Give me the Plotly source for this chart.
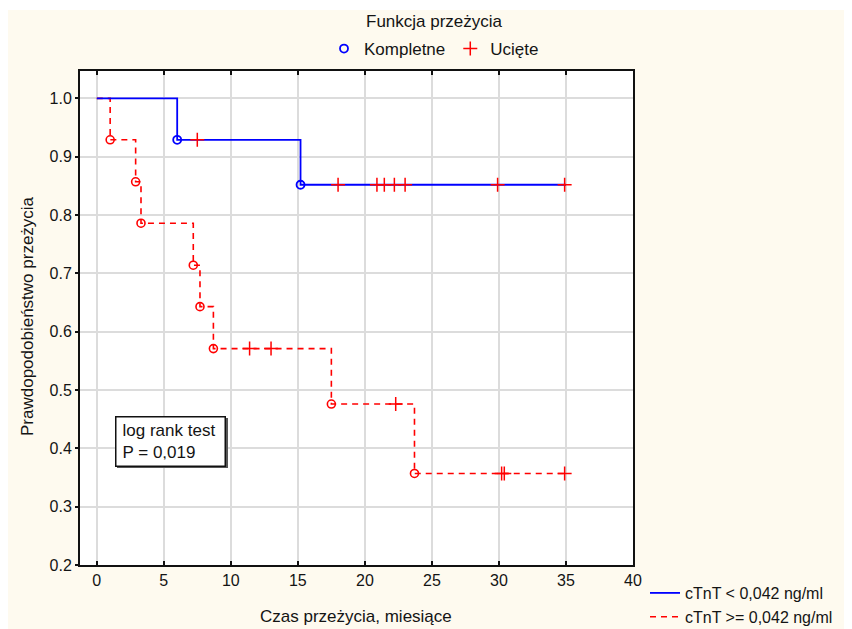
import plotly.graph_objects as go

# ---------------- data ----------------
# Kaplan-Meier step curves (time in months, survival probability)
low_t = [0.0, 6.0, 15.2, 35.0]
low_s = [1.0, 0.929, 0.852, 0.852]
low_event_t = [6.0, 15.2]
low_event_s = [0.929, 0.852]
low_cens_t = [7.5, 18.0, 20.9, 21.45, 22.2, 23.0, 29.9, 34.9]
low_cens_s = [0.929, 0.852, 0.852, 0.852, 0.852, 0.852, 0.852, 0.852]

high_t = [0.0, 1.0, 2.9, 3.3, 7.2, 7.7, 8.7, 17.5, 23.7, 35.0]
high_s = [1.0, 0.929, 0.857, 0.786, 0.714, 0.643, 0.571, 0.476, 0.357, 0.357]
high_event_t = [1.0, 2.9, 3.3, 7.2, 7.7, 8.7, 17.5, 23.7]
high_event_s = [0.929, 0.857, 0.786, 0.714, 0.643, 0.571, 0.476, 0.357]
high_cens_t = [11.4, 13.0, 22.3, 30.2, 30.4, 34.9]
high_cens_s = [0.571, 0.571, 0.476, 0.357, 0.357, 0.357]

x_ticks = [0, 5, 10, 15, 20, 25, 30, 35, 40]
y_ticks = [0.2, 0.3, 0.4, 0.5, 0.6, 0.7, 0.8, 0.9, 1.0]

series_names = ["cTnT < 0,042 ng/ml", "cTnT >= 0,042 ng/ml"]
marker_names = ["Kompletne", "Ucięte"]

BLUE = "#0000FF"
RED = "#FF0000"
CREAM = "#FEFAEF"
FONT = "Arial, Liberation Sans, sans-serif"
TXT = "#141414"

# page has an 8px body margin; figure is placed at (8, 8)
OFF = 8
W, H = 852 - OFF, 629 - OFF
# plot area in page pixels
L, R, T, B = 80, 633, 71, 565
def px(x):
    return (x - L) / (R - L)
def py(y):
    return (B - y) / (B - T)

fig = go.Figure()

# red dashed curve
fig.add_trace(go.Scatter(x=high_t, y=high_s, mode="lines", line_shape="hv",
                         line=dict(color=RED, width=1.6, dash="6px,5px"),
                         name=series_names[1], legend="legend2"))
# blue solid curve
fig.add_trace(go.Scatter(x=low_t, y=low_s, mode="lines", line_shape="hv",
                         line=dict(color=BLUE, width=1.8),
                         name=series_names[0], legend="legend2"))

# complete (event) markers
fig.add_trace(go.Scatter(x=high_event_t, y=high_event_s, mode="markers",
                         marker=dict(symbol="circle-open", size=8, color=RED,
                                     line=dict(width=1.6, color=RED)),
                         showlegend=False))
fig.add_trace(go.Scatter(x=low_event_t, y=low_event_s, mode="markers",
                         marker=dict(symbol="circle-open", size=8, color=BLUE,
                                     line=dict(width=1.8, color=BLUE)),
                         name=marker_names[0], legend="legend"))
# censored markers
fig.add_trace(go.Scatter(x=low_cens_t + high_cens_t, y=low_cens_s + high_cens_s,
                         mode="markers",
                         marker=dict(symbol="cross-thin", size=10, color=RED,
                                     line=dict(width=1.5, color=RED)),
                         name=marker_names[1], legend="legend"))

# thin white strip at the top edge of the image
fig.add_shape(type="rect", xref="paper", yref="paper", x0=px(0), x1=px(860),
              y0=py(10), y1=py(-2), fillcolor="white", line_width=0, layer="below")

# log-rank box shadow + box
fig.add_shape(type="rect", xref="paper", yref="paper",
              x0=px(117), x1=px(228), y0=py(468), y1=py(418),
              fillcolor="#555555", line_width=0, layer="above")
fig.add_annotation(xref="paper", yref="paper", x=px(115), y=py(415.5),
                   xanchor="left", yanchor="top", align="left",
                   text="log rank test<br>P = 0,019", showarrow=False,
                   font=dict(family=FONT, size=17, color=TXT),
                   bgcolor="white", bordercolor="#111111", borderwidth=1.5,
                   borderpad=6, width=96, height=36)

# titles
fig.add_annotation(xref="paper", yref="paper", x=px(434), y=py(21),
                   xanchor="center", yanchor="middle",
                   text="Funkcja przeżycia", showarrow=False,
                   font=dict(family=FONT, size=17, color=TXT))
fig.add_annotation(xref="paper", yref="paper", x=px(356), y=py(616),
                   xanchor="center", yanchor="middle",
                   text="Czas przeżycia, miesiące", showarrow=False,
                   font=dict(family=FONT, size=17, color=TXT))
fig.add_annotation(xref="paper", yref="paper", x=px(27), y=py(316),
                   xanchor="center", yanchor="middle",
                   text="Prawdopodobieństwo przeżycia", showarrow=False,
                   textangle=-90, font=dict(family=FONT, size=17, color=TXT))

fig.update_layout(
    width=W, height=H,
    margin=dict(l=L - OFF, r=852 - R, t=T - OFF, b=629 - B, pad=0,
                autoexpand=False),
    paper_bgcolor=CREAM, plot_bgcolor="white",
    font=dict(family=FONT, size=16, color=TXT),
    legend=dict(orientation="h", x=px(434), xanchor="center",
                y=py(49), yanchor="middle", bgcolor="rgba(0,0,0,0)",
                font=dict(size=17), itemwidth=30, tracegroupgap=0),
    legend2=dict(orientation="v", x=px(645), xanchor="left",
                 y=py(576), yanchor="top", bgcolor="rgba(0,0,0,0)",
                 font=dict(size=16), tracegroupgap=0, traceorder="reversed"),
)
fig.update_xaxes(range=[-1.25, 40], tickmode="array", tickvals=x_ticks,
                 ticktext=[str(v) for v in x_ticks],
                 showgrid=True, gridcolor="#DCDCDC", gridwidth=2, zeroline=False,
                 showline=True, linecolor="#111111", linewidth=2, mirror="ticks",
                 ticks="inside", ticklen=4, tickcolor="#111111", tickwidth=1.5,
                 tickfont=dict(size=16, color=TXT))
fig.update_yaxes(range=[0.2, 1.047], tickmode="array", tickvals=y_ticks,
                 ticktext=[f"{v:.1f}" for v in y_ticks],
                 showgrid=True, gridcolor="#DCDCDC", gridwidth=2, zeroline=False,
                 showline=True, linecolor="#111111", linewidth=2, mirror=True,
                 ticks="outside", ticklen=3, tickcolor="#111111", tickwidth=1.5,
                 tickfont=dict(size=16, color=TXT))

fig.write_html("out.html")
